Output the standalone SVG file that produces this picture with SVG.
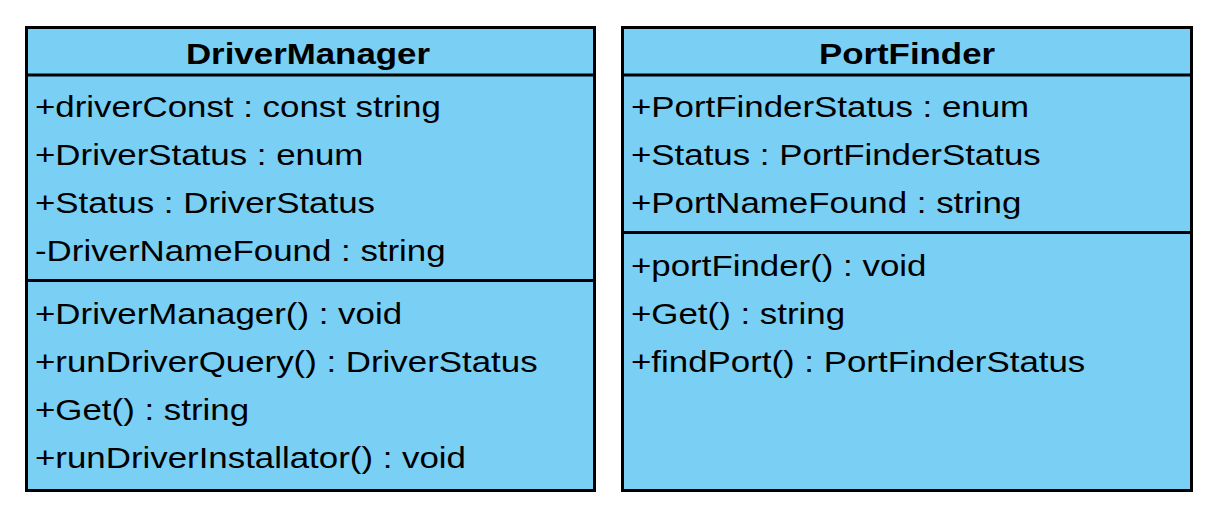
<svg xmlns="http://www.w3.org/2000/svg" width="1224" height="522" viewBox="0 0 1224 522">
<style>
.box{fill:#7ACFF5;stroke:#000;stroke-width:3}
.ln{stroke:#000;stroke-width:3}
.t{font-family:"Liberation Sans",Arial,sans-serif;font-size:30px;fill:#000}
.h{font-family:"Liberation Sans",Arial,sans-serif;font-size:30px;font-weight:bold;fill:#000;text-anchor:middle}
</style>
<rect width="1224" height="522" fill="#fff"/>
<g id="DriverManager">
<rect class="box" x="26.5" y="27.5" width="568" height="463"/>
<line class="ln" x1="26.5" y1="75" x2="594.5" y2="75"/>
<line class="ln" x1="26.5" y1="280.5" x2="594.5" y2="280.5"/>
<text class="h" transform="translate(308,64) scale(1.162,1)">DriverManager</text>
<g transform="translate(35,0) scale(1.162,1)">
<text class="t" y="117">+driverConst : const string</text>
<text class="t" y="165">+DriverStatus : enum</text>
<text class="t" y="213">+Status : DriverStatus</text>
<text class="t" y="261">-DriverNameFound : string</text>
<text class="t" y="324">+DriverManager() : void</text>
<text class="t" y="372">+runDriverQuery() : DriverStatus</text>
<text class="t" y="420">+Get() : string</text>
<text class="t" y="468">+runDriverInstallator() : void</text>
</g>
</g>
<g id="PortFinder">
<rect class="box" x="622.5" y="27.5" width="569" height="463"/>
<line class="ln" x1="622.5" y1="75" x2="1191.5" y2="75"/>
<line class="ln" x1="622.5" y1="232.5" x2="1191.5" y2="232.5"/>
<text class="h" transform="translate(907,64) scale(1.162,1)">PortFinder</text>
<g transform="translate(631,0) scale(1.162,1)">
<text class="t" y="117">+PortFinderStatus : enum</text>
<text class="t" y="165">+Status : PortFinderStatus</text>
<text class="t" y="213">+PortNameFound : string</text>
<text class="t" y="276">+portFinder() : void</text>
<text class="t" y="324">+Get() : string</text>
<text class="t" y="372">+findPort() : PortFinderStatus</text>
</g>
</g>
<g id="connectors"/>
</svg>
